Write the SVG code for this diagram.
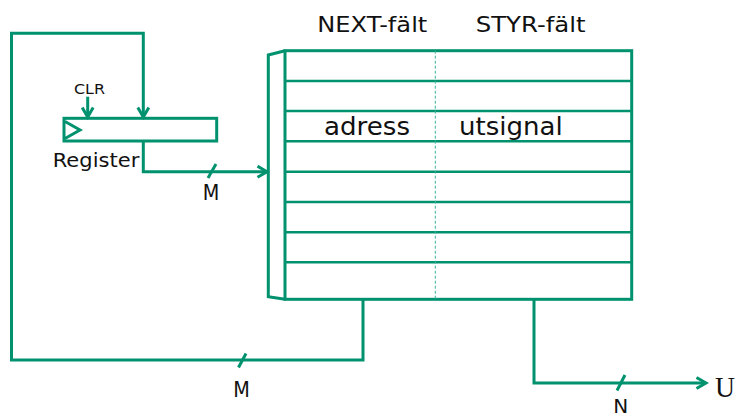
<svg xmlns="http://www.w3.org/2000/svg" width="739" height="419" viewBox="0 0 739 419">
<style>
.ln{fill:none;stroke:#00926E;stroke-width:3;stroke-linejoin:miter}
.row{fill:none;stroke:#00926E;stroke-width:2.5}
.t{font-family:"DejaVu Sans",Verdana,sans-serif;fill:#111}
</style>
<defs>
<marker id="ah" markerUnits="userSpaceOnUse" markerWidth="14" markerHeight="14" viewBox="0 0 14 14" refX="11" refY="7" orient="auto">
<path d="M1.5,1.5 L11,7 L1.5,12.5" fill="none" stroke="#00926E" stroke-width="3"/>
</marker>
</defs>
<rect width="739" height="419" fill="#fff"/>
<g id="memory">
<polyline class="ln" points="285,50.7 268.3,55 268.3,296.7 285,299.3"/>
<rect class="ln" x="285" y="50.7" width="346.7" height="248.6"/>
<g class="row">
<line x1="285" y1="81" x2="631.7" y2="81"/>
<line x1="285" y1="111" x2="631.7" y2="111"/>
<line x1="285" y1="141.3" x2="631.7" y2="141.3"/>
<line x1="285" y1="171.7" x2="631.7" y2="171.7"/>
<line x1="285" y1="202" x2="631.7" y2="202"/>
<line x1="285" y1="232.3" x2="631.7" y2="232.3"/>
<line x1="285" y1="262.3" x2="631.7" y2="262.3"/>
</g>
<line x1="435.3" y1="50.7" x2="435.3" y2="299.3" stroke="#3bb39a" stroke-width="1" stroke-dasharray="3,2"/>
<text class="t" x="317.3" y="31.7" font-size="21" textLength="110" lengthAdjust="spacingAndGlyphs">NEXT-fält</text>
<text class="t" x="475.7" y="31.7" font-size="21" textLength="110" lengthAdjust="spacingAndGlyphs">STYR-fält</text>
<text class="t" x="324" y="135" font-size="24.5" textLength="86" lengthAdjust="spacingAndGlyphs">adress</text>
<text class="t" x="459" y="135" font-size="24.5" textLength="103.7" lengthAdjust="spacingAndGlyphs">utsignal</text>
</g>
<g id="register">
<rect class="ln" x="64" y="118.3" width="152.7" height="22.7"/>
<polyline class="ln" points="65,121.5 80,130 65,138.5"/>
<text class="t" x="52.7" y="166.7" font-size="19" textLength="86.6" lengthAdjust="spacingAndGlyphs">Register</text>
<text class="t" x="74" y="94" font-size="14.5" textLength="31" lengthAdjust="spacingAndGlyphs">CLR</text>
</g>
<g id="output">
<text x="715" y="396.7" font-family="Liberation Serif,Times New Roman,serif" font-size="30" fill="#111" textLength="20" lengthAdjust="spacingAndGlyphs">U</text>
</g>
<g id="connectors">
<line class="ln" x1="87.7" y1="96.7" x2="87.7" y2="117" marker-end="url(#ah)"/>
<polyline class="ln" points="363,299.3 363,360 11.5,360 11.5,33.3 143.3,33.3 143.3,117" marker-end="url(#ah)"/>
<polyline class="ln" points="143.3,141 143.3,171.7 267,171.7" marker-end="url(#ah)"/>
<polyline class="ln" points="534,299.3 534,383 706,383" marker-end="url(#ah)"/>
<line class="ln" x1="208" y1="178" x2="216" y2="164"/>
<line class="ln" x1="238.5" y1="367.5" x2="246" y2="353.5"/>
<line class="ln" x1="617" y1="390.5" x2="625" y2="375"/>
<text class="t" x="202.7" y="200" font-size="21" textLength="16.6" lengthAdjust="spacingAndGlyphs">M</text>
<text class="t" x="233.3" y="396.7" font-size="21" textLength="16.6" lengthAdjust="spacingAndGlyphs">M</text>
<text class="t" x="613.3" y="413" font-size="20" textLength="15" lengthAdjust="spacingAndGlyphs">N</text>
</g>
</svg>
